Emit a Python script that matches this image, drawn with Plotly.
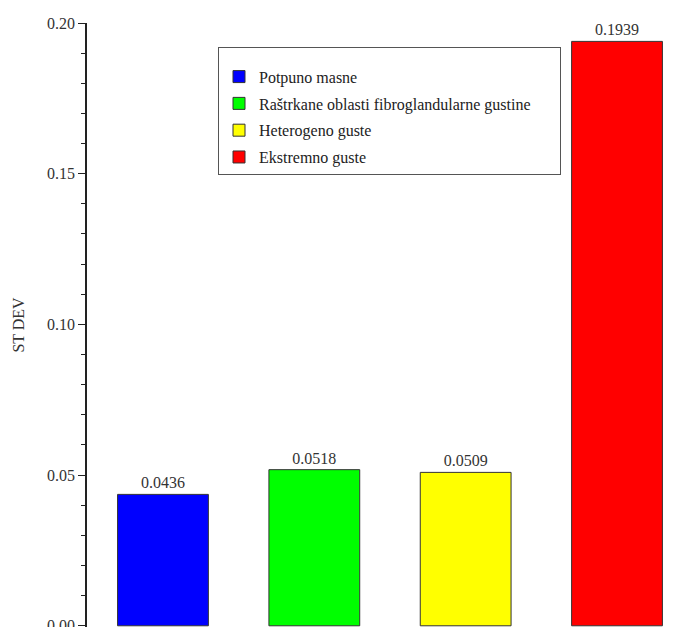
import plotly.graph_objects as go

categories = ["Potpuno masne", "Raštrkane oblasti fibroglandularne gustine", "Heterogeno guste", "Ekstremno guste"]
values = [0.0436, 0.0518, 0.0509, 0.1939]
labels = ["0.0436", "0.0518", "0.0509", "0.1939"]
colors = ["#0000FF", "#00FF00", "#FFFF00", "#FF0000"]
tick_vals = [0.00, 0.05, 0.10, 0.15, 0.20]
tick_text = ["0.00", "0.05", "0.10", "0.15", "0.20"]

FONT = "Liberation Serif"
PAD = "\u00a0" * 6

fig = go.Figure()
for i, (cat, v, lab, c) in enumerate(zip(categories, values, labels, colors)):
    fig.add_trace(go.Bar(
        x=[i], y=[v], name=cat + (PAD if i == 1 else ""), width=0.6, legendgroup=f"g{i}",
        marker=dict(color=c, line=dict(color="#333333", width=1)),
        text=[lab], textposition="outside", cliponaxis=False,
        textfont=dict(family=FONT, size=16, color="#333333"),
    ))

fig.update_layout(
    width=675, height=619,
    margin=dict(l=79, r=0, t=15, b=0, autoexpand=False),
    paper_bgcolor="white", plot_bgcolor="white",
    barmode="overlay",
    font=dict(family=FONT, size=16, color="#333333"),
    showlegend=True,
    legend=dict(
        x=0.2198, y=0.9603, xanchor="left", yanchor="top",
        bordercolor="#555555", borderwidth=1, bgcolor="white",
        font=dict(family=FONT, size=16, color="#222222"),
        tracegroupgap=3,
        title=dict(text="&nbsp;", font=dict(size=9)),
    ),
    xaxis=dict(range=[-0.502, 3.436], showticklabels=False, ticks="",
               showline=False, showgrid=False, zeroline=False, automargin=False),
    yaxis=dict(range=[-0.0004, 0.2], tickvals=tick_vals, ticktext=tick_text,
               ticks="outside", ticklen=7, tickcolor="#222222", tickwidth=1.2,
               showline=True, linecolor="#222222", linewidth=1.5,
               showgrid=False, zeroline=False, ticklabeloverflow="allow",
               automargin=False,
               tickfont=dict(family=FONT, size=16, color="#333333"),
               title=dict(text="ST DEV", font=dict(family=FONT, size=16, color="#333333"), standoff=18),
               minor=dict(ticks="outside", ticklen=4, dtick=0.01, tickcolor="#222222", showgrid=False)),
)

fig.write_html("out.html")
